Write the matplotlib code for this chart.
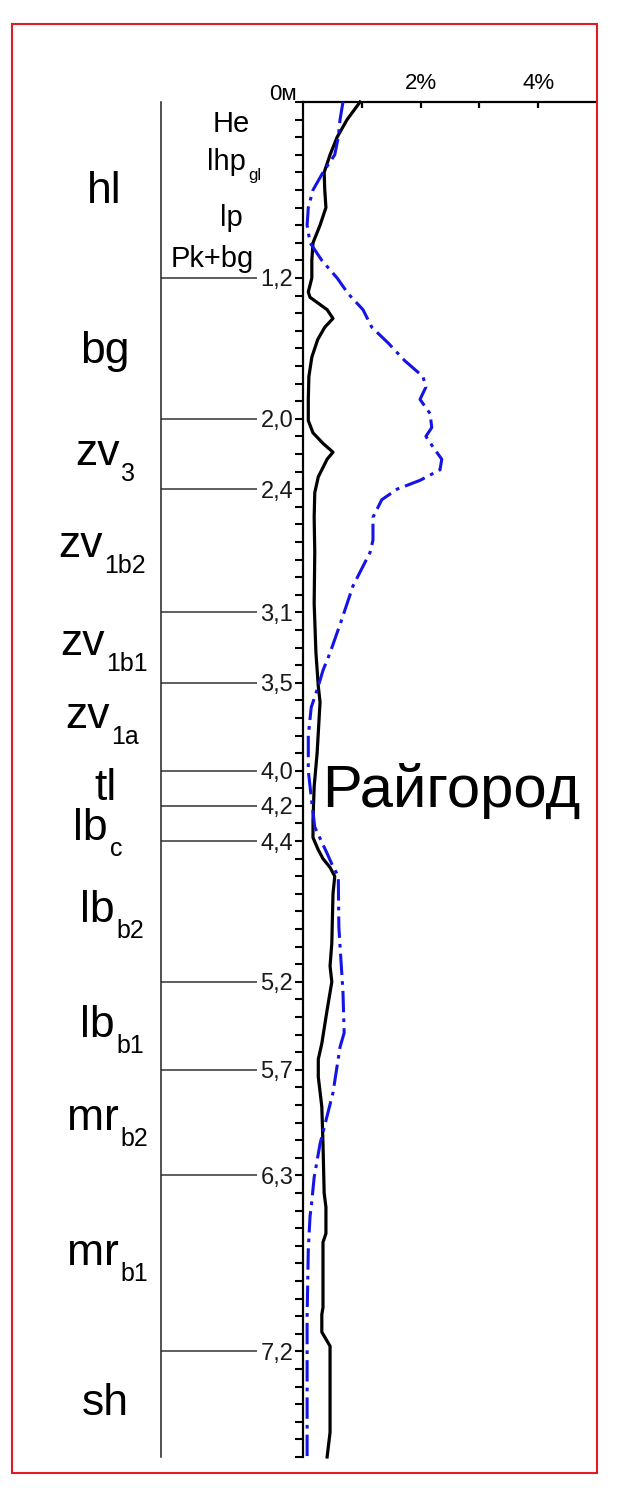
import matplotlib
matplotlib.use("Agg")
import matplotlib.pyplot as plt
from matplotlib.patches import Rectangle

# depth axis is in sample steps (one minor tick per sample)
N_STEPS = 77
boundary_steps = [10, 18, 22, 29, 33, 38, 40, 42, 50, 55, 61, 71]
boundary_labels = ["1,2", "2,0", "2,4", "3,1", "3,5", "4,0", "4,2", "4,4",
                   "5,2", "5,7", "6,3", "7,2"]

x_ticks = [1, 2, 3, 4]
x_tick_labels = ["", "2%", "", "4%"]

# black solid curve: (step, percent)
black_step = [0, 1, 2, 3, 4, 5, 6, 7, 8, 9, 10, 10.8, 11.1, 11.8, 12.3, 12.8, 13.5,
              14.5, 15.6, 16.9, 18.1, 18.8, 19.4, 19.9, 20.3, 21.3, 22.2, 23.6, 25.6,
              28.5, 31.3, 33.2, 34.1, 37, 38.9, 40.8, 41.8, 42.5, 43, 43.5, 44, 45,
              47.8, 49.1, 50, 51.6, 53.5, 54.4, 55.4, 57.1, 59.2, 62, 62.8, 64.3,
              64.8, 68.5, 68.9, 69.9, 70.7, 75.6, 77]
black_val = [0.97, 0.75, 0.58, 0.46, 0.36, 0.37, 0.39, 0.29, 0.17, 0.15, 0.15, 0.09,
             0.12, 0.41, 0.51, 0.37, 0.25, 0.15, 0.10, 0.09, 0.09, 0.17, 0.34, 0.51,
             0.41, 0.26, 0.20, 0.19, 0.20, 0.19, 0.22, 0.26, 0.29, 0.24, 0.19, 0.17,
             0.17, 0.26, 0.34, 0.46, 0.54, 0.51, 0.49, 0.46, 0.49, 0.41, 0.32, 0.26,
             0.26, 0.32, 0.34, 0.36, 0.39, 0.39, 0.34, 0.34, 0.32, 0.32, 0.46, 0.46,
             0.41]

# blue dash-dot curve
blue_step = [0, 1, 2, 3, 4, 5, 6, 7, 8, 9, 10, 10.9, 11.8, 12.8, 13.7, 14.7, 15.6,
             16.2, 16.9, 17.7, 18.5, 19.0, 19.6, 20.3, 20.9, 21.5, 22.0, 22.6, 23.6,
             24.9, 25.6, 27.5, 29.4, 31.3, 32.3, 33.2, 34.4, 36, 38, 39.8, 41.2,
             42.7, 43.3, 44, 46.9, 50.6, 52.9, 53.7, 56.3, 59.2, 61.1, 62.8, 63.3,
             65.2, 69, 77]
blue_val = [0.68, 0.63, 0.60, 0.54, 0.34, 0.17, 0.09, 0.07, 0.12, 0.32, 0.58, 0.77,
            1.02, 1.17, 1.45, 1.73, 2.04, 2.09, 1.99, 2.16, 2.19, 2.09, 2.21, 2.36,
            2.33, 1.99, 1.60, 1.34, 1.19, 1.19, 1.14, 0.85, 0.66, 0.46, 0.34, 0.26,
            0.14, 0.09, 0.09, 0.15, 0.20, 0.41, 0.49, 0.60, 0.61, 0.68, 0.70, 0.63,
            0.51, 0.29, 0.19, 0.14, 0.12, 0.09, 0.07, 0.07]

# stratigraphic units: (main, subscript, left x px, baseline y px)
strata = [
    ("hl", "", 87, 203),
    ("bg", "", 80, 363),
    ("zv", "3", 75, 465),
    ("zv", "1b2", 58, 557),
    ("zv", "1b1", 60, 655),
    ("zv", "1a", 65, 728),
    ("tl", "", 94, 800),
    ("lb", "c", 73, 840),
    ("lb", "b2", 80, 922),
    ("lb", "b1", 80, 1037),
    ("mr", "b2", 67, 1130),
    ("mr", "b1", 67, 1265),
    ("sh", "", 82, 1415),
]
top_units = [
    ("He", "", 213, 132),
    ("lhp", "gl", 207, 170),
    ("lp", "", 220, 226),
    ("Pk+bg", "", 171, 267),
]

W, H = 625, 1500
AX_LEFT, AX_RIGHT, AX_TOP, AX_BOTTOM = 303, 595, 102, 1457
LINE_LEFT, LINE_RIGHT = 161, 257

plt.rcParams["font.family"] = ["Liberation Sans", "DejaVu Sans"]

fig = plt.figure(figsize=(W / 100, H / 100), dpi=100)

# overlay in pixel coordinates for free text and the frame
ov = fig.add_axes([0, 0, 1, 1], zorder=0)
ov.set_xlim(0, W)
ov.set_ylim(H, 0)
ov.axis("off")

ax = fig.add_axes([AX_LEFT / W, 1 - AX_BOTTOM / H, (AX_RIGHT - AX_LEFT) / W,
                   (AX_BOTTOM - AX_TOP) / H], zorder=2)
ax.patch.set_alpha(0)

ax.plot(black_val, black_step, color="black", lw=2.3, clip_on=False, zorder=3,
        solid_joinstyle="round")
ax.plot(blue_val, blue_step, color="#1414e6", lw=2.2, clip_on=False, zorder=4,
        linestyle=(0, (7, 2, 1.2, 2)))

ax.set_xlim(0, (AX_RIGHT - AX_LEFT) / 58.8)
ax.set_ylim(N_STEPS, 0)
for side in ("right", "bottom"):
    ax.spines[side].set_visible(False)
for side in ("top", "left"):
    ax.spines[side].set_linewidth(1.6)

ax.xaxis.tick_top()
ax.set_xticks(x_ticks)
ax.set_xticklabels(x_tick_labels)
ax.tick_params(axis="x", direction="in", length=4, width=1.6, pad=6, labelsize=16)

ax.set_yticks(boundary_steps)
ax.set_yticklabels(boundary_labels)
ax.set_yticks(range(0, N_STEPS + 1), minor=True)
ax.tick_params(axis="y", which="both", direction="out", length=5.5, width=1.5)
ax.tick_params(axis="y", which="major", pad=1.5, labelsize=17, labelcolor="#1a1a1a")

# left column: boundaries between units
axl = fig.add_axes([LINE_LEFT / W, 1 - AX_BOTTOM / H, (AX_LEFT - LINE_LEFT) / W,
                    (AX_BOTTOM - AX_TOP) / H], sharey=ax, zorder=1)
axl.patch.set_alpha(0)
axl.set_xlim(0, 1)
for side in ("right", "bottom", "top"):
    axl.spines[side].set_visible(False)
axl.spines["left"].set_linewidth(1.1)
axl.spines["left"].set_color("#222222")
axl.tick_params(which="both", left=False, labelleft=False, bottom=False,
                labelbottom=False)
line_end = (LINE_RIGHT - LINE_LEFT) / (AX_LEFT - LINE_LEFT)
axl.hlines(boundary_steps, 0, line_end, color="#333333", lw=1.1)

fig.canvas.draw()
renderer = fig.canvas.get_renderer()


def unit_label(name, sub, x, y, size, sub_size, sub_drop):
    t = ov.text(x, y, name, fontsize=size, ha="left", va="baseline", color="black")
    if sub:
        ext = t.get_window_extent(renderer=renderer)
        ov.text(ext.x1 + 2, y + sub_drop, sub, fontsize=sub_size, ha="left",
                va="baseline", color="black")


for name, sub, x, y in strata:
    unit_label(name, sub, x, y, 32, 18, 16)
for name, sub, x, y in top_units:
    unit_label(name, sub, x, y, 21, 12, 10)

ov.text(297, 100, "0м", fontsize=16, ha="right", va="baseline")
ov.text(322, 807, "Райгород", fontsize=43, ha="left", va="baseline")

ov.add_patch(Rectangle((12, 24), 585, 1449, fill=False, edgecolor="#e01b24", lw=1.5))

fig.savefig("out.png", dpi=100)
